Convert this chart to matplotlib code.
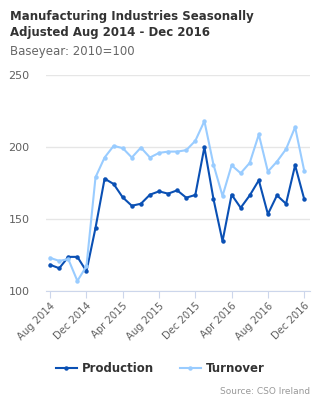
import numpy as np
import matplotlib
matplotlib.use("Agg")
import matplotlib.pyplot as plt

# months Aug 2014 .. Dec 2016
months = ["Aug 2014", "Sep 2014", "Oct 2014", "Nov 2014", "Dec 2014",
          "Jan 2015", "Feb 2015", "Mar 2015", "Apr 2015", "May 2015", "Jun 2015",
          "Jul 2015", "Aug 2015", "Sep 2015", "Oct 2015", "Nov 2015", "Dec 2015",
          "Jan 2016", "Feb 2016", "Mar 2016", "Apr 2016", "May 2016", "Jun 2016",
          "Jul 2016", "Aug 2016", "Sep 2016", "Oct 2016", "Nov 2016", "Dec 2016"]

production = [118.2, 115.8, 123.7, 123.7, 113.7, 143.9, 178.0, 174.3, 165.0,
              159.2, 160.6, 166.9, 169.2, 167.6, 169.9, 164.8, 166.7, 199.9,
              163.9, 134.6, 166.9, 157.8, 166.4, 176.9, 153.4, 166.4, 160.6,
              187.3, 163.9]
turnover = [123.0, 120.9, 122.1, 107.0, 117.2, 179.0, 192.7, 200.8, 199.2,
            192.7, 199.6, 192.7, 195.9, 196.8, 196.8, 197.8, 204.3, 218.0,
            187.8, 166.0, 187.3, 181.8, 189.0, 208.7, 182.9, 189.9, 198.5,
            213.8, 183.6]

yticks = [100, 150, 200, 250]

x = np.arange(len(months))

fig = plt.figure(figsize=(3.2, 4.0), dpi=100)
ax = fig.add_axes([0.144, 0.2725, 0.825, 0.54])

ax.plot(x, production, color="#0a50b4", lw=1.5, marker="o", ms=2.2, label="Production")
ax.plot(x, turnover, color="#99ccff", lw=1.5, marker="o", ms=2.2, label="Turnover")

ax.set_ylim(100, 250)
ax.set_xlim(-0.45, 28.65)
ax.set_yticks(yticks)
ax.set_xticks(x[::4])
ax.set_xticklabels(months[::4], rotation=45, ha="right", rotation_mode="anchor")
ax.grid(axis="y", color="#e6e6e6", lw=1)
ax.set_axisbelow(True)
for s in ["top", "right", "left"]:
    ax.spines[s].set_visible(False)
ax.spines["bottom"].set_color("#ccd6eb")
ax.tick_params(axis="y", length=0, labelsize=8, labelcolor="#606060", pad=12)
ax.tick_params(axis="x", length=5, color="#ccd6eb", labelsize=7.2, labelcolor="#606060", pad=2)

fig.text(0.03, 0.975, "Manufacturing Industries Seasonally\nAdjusted Aug 2014 - Dec 2016",
         fontsize=8.5, fontweight="bold", color="#333333", va="top", linespacing=1.3)
fig.text(0.03, 0.87, "Baseyear: 2010=100", fontsize=8.5, color="#666666", va="center")

leg = fig.legend(loc="center", ncol=2, frameon=False,
                 prop={"weight": "bold", "size": 8.5}, handlelength=1.8, columnspacing=2.2,
                 handletextpad=0.4)
for t in leg.get_texts():
    t.set_color("#333333")
leg.set_bbox_to_anchor((0.5, 1 - 369 / 400), transform=fig.transFigure)

fig.text(0.97, 1 - 391 / 400, "Source: CSO Ireland", fontsize=6.5, color="#999999",
         ha="right", va="center")

fig.savefig("out.png", dpi=100)
